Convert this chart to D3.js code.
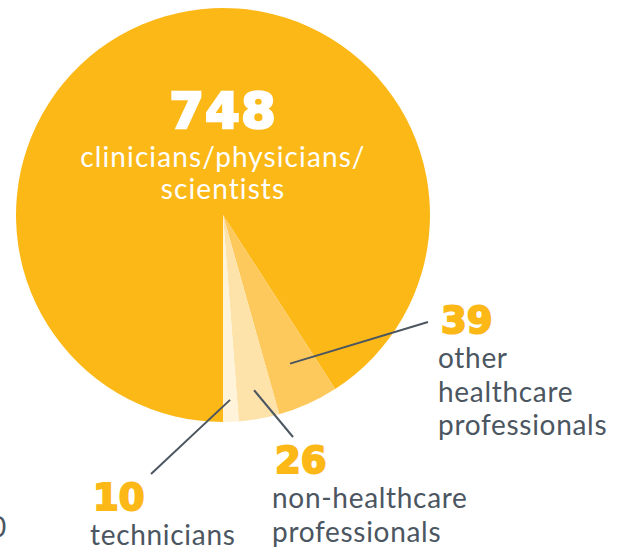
<!DOCTYPE html>
<html>
<head>
<meta charset="utf-8">
<script src="https://cdn.jsdelivr.net/npm/d3@7"></script>
<style>
  html, body { margin: 0; padding: 0; background: #fff; }
  svg { display: block; }
</style>
</head>
<body>
<div id="chart"></div>
<script>
// Data
const categories = ["clinicians/physicians/scientists", "other healthcare professionals", "non-healthcare professionals", "technicians"];
const counts = [748, 39, 26, 10];
const colors = ["#fbb817", "#fdc95c", "#fde2aa", "#fff3d9"];

const W = 623, H = 555;
const cx = 223, cy = 215, R = 207;
const numFont = "'DejaVu Sans', sans-serif";
const textFont = "Lato, 'Noto Sans', sans-serif";
const grey = "#4b5661";

const svg = d3.select("#chart").append("svg")
    .attr("width", W).attr("height", H);

const g = svg.append("g").attr("transform", `translate(${cx},${cy})`);

// Pie starts pointing straight down and runs clockwise
const pie = d3.pie().sort(null).startAngle(Math.PI).endAngle(3 * Math.PI);
const arcs = pie(counts);
const arc = d3.arc().innerRadius(0).outerRadius(R);

g.selectAll("path.slice")
    .data(arcs)
    .join("path")
    .attr("class", "slice")
    .attr("d", arc)
    .attr("fill", (d, i) => colors[i]);

// Big label inside main slice
const main = g.append("text").attr("text-anchor", "middle").attr("fill", "#fff");
main.append("tspan").attr("x", 0).attr("y", -87)
    .attr("font-family", numFont).attr("font-weight", "bold").attr("font-size", 50)
    .attr("stroke", "#fff").attr("stroke-width", 2.5).attr("letter-spacing", 1)
    .text(counts[0]);
main.append("tspan").attr("x", 0).attr("y", -48)
    .attr("font-family", textFont).attr("font-size", 28).attr("letter-spacing", 1.1)
    .text("clinicians/physicians/");
main.append("tspan").attr("x", 0).attr("y", -16)
    .attr("font-family", textFont).attr("font-size", 28).attr("letter-spacing", 1.1)
    .text("scientists");

// Outside labels: leader start radius, label anchor, leader end, text lines
const callouts = [
    { i: 1, r: 163, lx: 440, ly: 333, ex: 428, ey: 322, lines: ["other", "healthcare", "professionals"] },
    { i: 2, r: 178, lx: 274, ly: 473, ex: 293, ey: 437, lines: ["non-healthcare", "professionals"] },
    { i: 3, r: 185, lx: 92, ly: 510, ex: 151, ey: 474, lines: ["technicians"] }
];

callouts.forEach(c => {
    const a = arcs[c.i];
    const mid = (a.startAngle + a.endAngle) / 2;
    const p = d3.arc().innerRadius(c.r).outerRadius(c.r).centroid({ startAngle: mid, endAngle: mid });
    svg.append("line")
        .attr("x1", cx + p[0]).attr("y1", cy + p[1])
        .attr("x2", c.ex).attr("y2", c.ey)
        .attr("stroke", grey).attr("stroke-width", 2);

    svg.append("text")
        .attr("x", c.lx + 1).attr("y", c.ly)
        .attr("font-family", numFont).attr("font-weight", "bold").attr("font-size", 37)
        .attr("fill", "#fbb817").attr("stroke", "#fbb817").attr("stroke-width", 2)
        .text(counts[c.i]);

    const t = svg.append("text")
        .attr("font-family", textFont).attr("font-size", 28)
        .attr("letter-spacing", 0.7)
        .attr("fill", grey);
    c.lines.forEach((ln, k) => {
        t.append("tspan").attr("x", c.lx - 2).attr("y", c.ly + 35 + k * 33.5).text(ln);
    });
});

// cut-off glyph at the left edge (from a neighbouring graphic)
svg.append("text").attr("x", -10).attr("y", 537)
    .attr("font-family", textFont).attr("font-size", 28).attr("fill", grey)
    .text("0");
</script>
</body>
</html>
